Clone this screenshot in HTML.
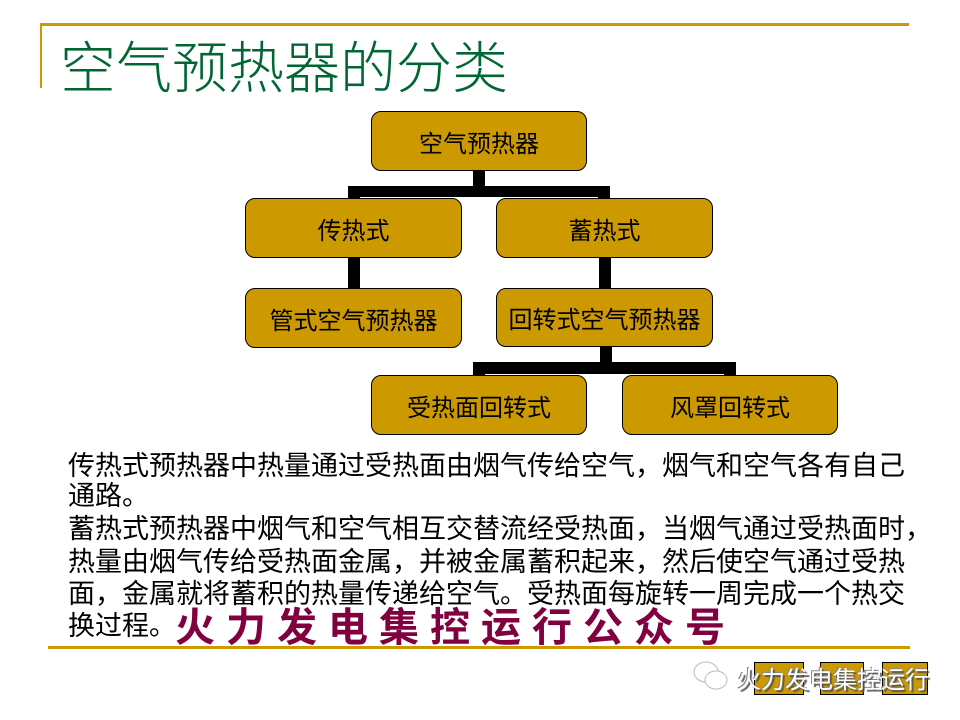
<!DOCTYPE html>
<html><head><meta charset="utf-8"><style>
body{margin:0;width:960px;height:720px;background:#fff;position:relative;overflow:hidden;font-family:"Liberation Serif","Noto Serif CJK SC","Noto Sans CJK SC",serif;}
.a{position:absolute}
.box{position:absolute;background:#cc9900;border:1.5px solid #000;border-radius:10px;box-sizing:border-box;display:flex;align-items:center;justify-content:center;font-size:24px;color:#000;font-family:"Liberation Sans","Noto Sans CJK SC",sans-serif;}
.k{position:absolute;background:#000}
.t{position:absolute;left:68px;font-size:27px;white-space:nowrap;line-height:30px;font-family:"Liberation Sans","Noto Sans CJK SC",sans-serif;}
.btn{position:absolute;background:#cc9900;border:1.5px solid #000;box-sizing:border-box;top:662px;height:33px}
</style></head><body>
<div class="a" style="left:40px;top:23px;width:869px;height:3px;background:#cc9900"></div>
<div class="a" style="left:40px;top:23px;width:2px;height:65px;background:#cc9900"></div>
<div class="a" style="left:60px;top:32px;font-size:56px;color:#006633;line-height:66px;white-space:nowrap;font-family:'Noto Sans CJK SC',sans-serif;font-weight:300">空气预热器的分类</div>

<div class="k" style="left:473px;top:170px;width:12px;height:20px"></div>
<div class="k" style="left:348px;top:186px;width:262px;height:11px"></div>
<div class="k" style="left:348px;top:186px;width:12px;height:14px"></div>
<div class="k" style="left:598px;top:186px;width:12px;height:14px"></div>
<div class="k" style="left:348px;top:256px;width:12px;height:34px"></div>
<div class="k" style="left:599px;top:256px;width:12px;height:34px"></div>
<div class="k" style="left:600px;top:345px;width:12px;height:20px"></div>
<div class="k" style="left:473px;top:362px;width:263px;height:12px"></div>
<div class="k" style="left:473px;top:362px;width:12px;height:15px"></div>
<div class="k" style="left:724px;top:362px;width:12px;height:15px"></div>

<div class="box" style="left:371px;top:111px;width:216px;height:60px">空气预热器</div>
<div class="box" style="left:245px;top:198px;width:217px;height:60px">传热式</div>
<div class="box" style="left:496px;top:198px;width:217px;height:60px">蓄热式</div>
<div class="box" style="left:245px;top:288px;width:217px;height:60px">管式空气预热器</div>
<div class="box" style="left:496px;top:288px;width:217px;height:59px">回转式空气预热器</div>
<div class="box" style="left:371px;top:375px;width:216px;height:60px">受热面回转式</div>
<div class="box" style="left:622px;top:375px;width:216px;height:60px">风罩回转式</div>

<div class="t" style="top:451px">传热式预热器中热量通过受热面由烟气传给空气，烟气和空气各有自己</div>
<div class="t" style="top:481px">通路。</div>
<div class="t" style="top:514px">蓄热式预热器中烟气和空气相互交替流经受热面，当烟气通过受热面时，</div>
<div class="t" style="top:547px">热量由烟气传给受热面金属，并被金属蓄积起来，然后使空气通过受热</div>
<div class="t" style="top:579px">面，金属就将蓄积的热量传递给空气。受热面每旋转一周完成一个热交</div>
<div class="t" style="top:611px">换过程。</div>
<div class="a" style="left:175px;top:602px;font-size:40px;font-weight:bold;color:#800040;letter-spacing:11px;line-height:44px;white-space:nowrap;font-family:'Noto Sans CJK SC',sans-serif">火力发电集控运行公众号</div>
<div class="a" style="left:48px;top:646px;width:862px;height:3px;background:#cc9900"></div>

<div class="btn" style="left:754px;width:50px"></div>
<div class="btn" style="left:820px;width:44px"></div>
<div class="btn" style="left:882px;width:46px"></div>
<svg class="a" style="left:690px;top:658px" width="42" height="36"><ellipse cx="16" cy="14" rx="12" ry="10" fill="#fff" stroke="#bbb"/><ellipse cx="26" cy="22" rx="11" ry="9" fill="#fff" stroke="#bbb"/></svg>
<div class="a" style="left:737px;top:661px;font-size:24px;color:#fff;text-shadow:2px 2px 1px #555,-1px -1px 0 #888;white-space:nowrap;font-family:'Noto Sans CJK SC',sans-serif;line-height:34px">火力发电集控运行</div>
</body></html>
